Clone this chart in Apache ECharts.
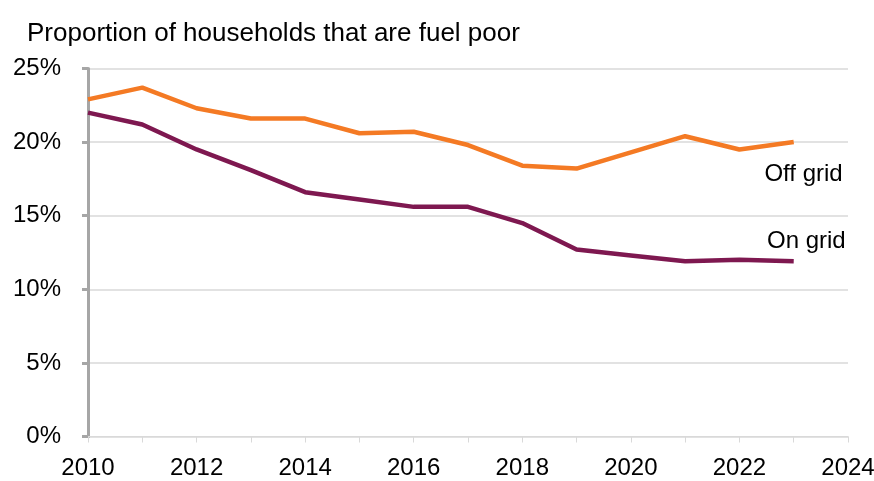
<!DOCTYPE html>
<html>
<head>
<meta charset="utf-8">
<script src="https://cdn.jsdelivr.net/npm/echarts@6/dist/echarts.min.js"></script>
<style>
  html, body { margin: 0; padding: 0; background: #ffffff; }
  #chart { width: 874px; height: 481px; }
</style>
</head>
<body>
<div id="chart"></div>
<script>
// Share of households in fuel poverty, by gas-grid connection
const years = [2010, 2011, 2012, 2013, 2014, 2015, 2016, 2017, 2018, 2019, 2020, 2021, 2022, 2023];
const offGrid = [22.9, 23.7, 22.3, 21.6, 21.6, 20.6, 20.7, 19.8, 18.4, 18.2, 19.3, 20.4, 19.5, 20.0];
const onGrid = [22.0, 21.2, 19.5, 18.1, 16.6, 16.1, 15.6, 15.6, 14.5, 12.7, 12.3, 11.9, 12.0, 11.9];
const yTicks = [0, 5, 10, 15, 20, 25];
const seriesNames = ['Off grid', 'On grid'];
const title = 'Proportion of households that are fuel poor';

const font = 'Liberation Sans, Arial, sans-serif';
const chart = echarts.init(document.getElementById('chart'));

const pairs = arr => years.map((y, i) => [y, arr[i]]);

const endLabel = (text, offset) => ({
  show: true,
  formatter: text,
  fontSize: 24,
  fontFamily: font,
  color: '#000000',
  align: 'right',
  verticalAlign: 'middle',
  offset: offset
});

chart.setOption({
  animation: false,
  textStyle: { fontFamily: font },
  title: {
    text: title,
    left: 22,
    top: 16,
    textStyle: { fontFamily: font, fontSize: 26, fontWeight: 'normal', color: '#000000' }
  },
  grid: {
    left: 88, right: 26, top: 68.5, bottom: 44.5,
    containLabel: false,
    outerBoundsMode: 'none'
  },
  xAxis: {
    type: 'value',
    min: 2010,
    max: 2024,
    interval: 1,
    axisLine: { show: true, lineStyle: { color: '#d9d9d9', width: 1 } },
    axisTick: { show: true, length: 6, lineStyle: { color: '#d9d9d9' } },
    splitLine: { show: false },
    axisLabel: {
      margin: 20,
      fontSize: 24,
      color: '#000000',
      fontFamily: font,
      formatter: v => (v % 2 === 0 ? String(v) : '')
    }
  },
  yAxis: {
    type: 'value',
    min: yTicks[0],
    max: yTicks[yTicks.length - 1],
    interval: 5,
    axisLine: { show: true, lineStyle: { color: '#a6a6a6', width: 3 } },
    axisTick: { show: true, length: 6, lineStyle: { color: '#a6a6a6', width: 3 } },
    splitLine: { show: true, lineStyle: { color: '#d9d9d9', width: 1.5 } },
    axisLabel: {
      margin: 27,
      fontSize: 24,
      color: '#000000',
      fontFamily: font,
      formatter: v => v + '%'
    }
  },
  series: [
    {
      name: seriesNames[0],
      type: 'line',
      data: pairs(offGrid),
      showSymbol: false,
      lineStyle: { color: '#f47a24', width: 4.5 },
      itemStyle: { color: '#f47a24' },
      endLabel: endLabel(seriesNames[0], [41, 32.5])
    },
    {
      name: seriesNames[1],
      type: 'line',
      data: pairs(onGrid),
      showSymbol: false,
      lineStyle: { color: '#7e1850', width: 4.5 },
      itemStyle: { color: '#7e1850' },
      endLabel: endLabel(seriesNames[1], [44, -20])
    }
  ]
});
</script>
</body>
</html>
